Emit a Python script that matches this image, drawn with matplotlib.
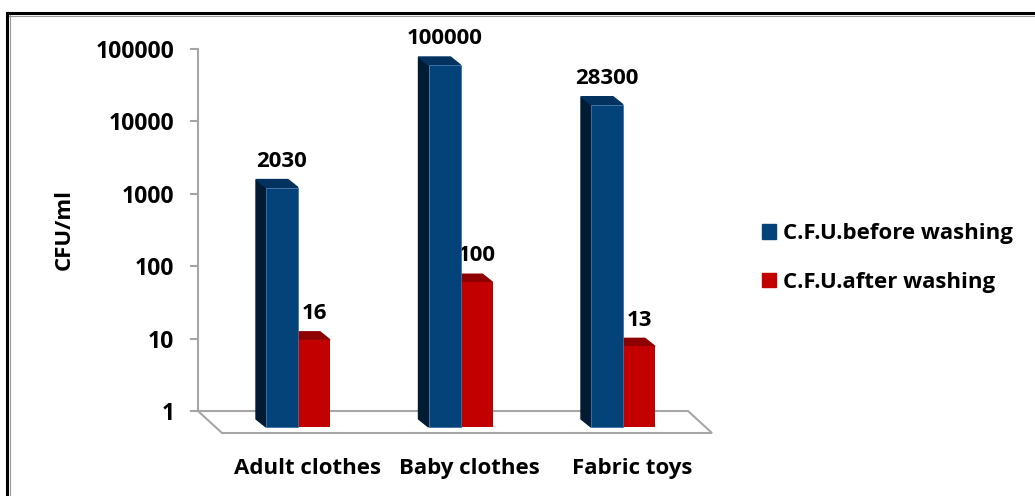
import numpy as np
import matplotlib
matplotlib.use("Agg")
import matplotlib.pyplot as plt
from matplotlib.patches import Polygon, Patch
from matplotlib.lines import Line2D
from matplotlib.ticker import NullLocator
import matplotlib.transforms as mtrans

categories = ["Adult clothes", "Baby clothes", "Fabric toys"]
before_washing = [2030, 100000, 28300]
after_washing = [16, 100, 13]
series_names = ["C.F.U.before washing", "C.F.U.after washing"]
y_ticks = [1, 10, 100, 1000, 10000, 100000]

plt.rcParams["font.family"] = ["Open Sans", "DejaVu Sans"]
plt.rcParams["font.weight"] = "bold"
FS = 16

BLUE = "#04427A"
BLUE_SIDE = "#011B33"
BLUE_TOP = "#03325E"
RED = "#C30000"
RED_SIDE = "#6E0000"
RED_TOP = "#8E0000"
GRAY = "#A6A6A6"

W, H = 1035, 496
fig = plt.figure(figsize=(W / 100, H / 100), dpi=100)


def px_box(x0, y_top, x1, y_bottom):
    return [x0 / W, 1 - y_bottom / H, (x1 - x0) / W, (y_bottom - y_top) / H]


# back wall with the value axis and the floor
wall = fig.add_axes(px_box(198, 49, 688, 411))
wall.set_yscale("log")
wall.set_ylim(1, 1e5)
wall.set_xlim(0, 1)
wall.patch.set_alpha(0)
for side in ["top", "right", "bottom"]:
    wall.spines[side].set_visible(False)
wall.spines["left"].set_color(GRAY)
wall.spines["left"].set_linewidth(1.5)
wall.set_xticks([])
wall.set_yticks(y_ticks)
wall.set_yticklabels([str(t) for t in y_ticks])
wall.yaxis.set_minor_locator(NullLocator())
wall.tick_params(axis="y", length=6, width=1.5, color=GRAY, pad=11,
                 labelsize=16.5)

fdx = 24 / 490
fdy = -22 / 362
floor = Polygon([(0, 0), (1, 0), (1 + fdx, fdy), (fdx, fdy)], closed=True,
                facecolor="white", edgecolor=GRAY, lw=1.5,
                transform=wall.transAxes, clip_on=False, zorder=1)
wall.add_patch(floor)

fig.text(64 / W, 1 - 230 / H, "CFU/ml", rotation=90, ha="center",
         va="center", fontsize=FS, fontweight="bold")

# bars, front plane
bx = fig.add_axes(px_box(216.75, 65, 704.25, 427))
bx.set_yscale("log")
bx.set_ylim(1, 1e5)
bx.set_xlim(-0.5, 2.5)
bx.axis("off")
bx.patch.set_alpha(0)

x = np.arange(len(categories))
w = 32 / 162.5
ddx = 10 * 3 / 487.5
k = 10 ** (8 / 72.4)


def faces(ax, xc, val, side_c, top_c, z):
    x0, x1 = xc - w / 2, xc + w / 2
    ax.add_patch(Polygon([(x0, 1), (x0, val), (x0 - ddx, val * k),
                          (x0 - ddx, k)], closed=True, color=side_c,
                         clip_on=False, zorder=z))
    ax.add_patch(Polygon([(x0, val), (x1, val), (x1 - ddx, val * k),
                          (x0 - ddx, val * k)], closed=True, color=top_c,
                         clip_on=False, zorder=z))


for i in range(len(categories)):
    faces(bx, x[i] + w / 2, after_washing[i], RED_SIDE, RED_TOP, 2)
bars_after = bx.bar(x + w / 2, np.array(after_washing) - 1, bottom=1,
                    width=w, color=RED, zorder=2.5, clip_on=False)
for i in range(len(categories)):
    faces(bx, x[i] - w / 2, before_washing[i], BLUE_SIDE, BLUE_TOP, 3)
bars_before = bx.bar(x - w / 2, np.array(before_washing) - 1, bottom=1,
                     width=w, color=BLUE, edgecolor="#3E72A8", lw=0.6,
                     zorder=3.5, clip_on=False)

for i in range(len(categories)):
    bx.annotate(str(before_washing[i]), (x[i] - w / 2, before_washing[i]),
                xytext=(0, 15), textcoords="offset points", ha="center",
                va="baseline", fontsize=FS, fontweight="bold")
    bx.annotate(str(after_washing[i]), (x[i] + w / 2, after_washing[i]),
                xytext=(0, 15), textcoords="offset points", ha="center",
                va="baseline", fontsize=FS, fontweight="bold")

lab_shift = mtrans.ScaledTranslation(0.09, -0.47, fig.dpi_scale_trans)
for i, cat in enumerate(categories):
    bx.text(x[i], 1, cat, transform=bx.transData + lab_shift, ha="center",
            va="baseline", fontsize=FS, fontweight="bold")

em = FS * 100 / 72
handles = [Patch(color=BLUE), Patch(color=RED)]
fig.legend(handles, series_names, loc="center left",
           bbox_to_anchor=(762 / W, 1 - 258 / H), frameon=False,
           handlelength=14 / em, handleheight=14 / em,
           handletextpad=7 / em, labelspacing=1.25, borderpad=0,
           borderaxespad=0, prop={"weight": "bold", "size": FS})

# outer frame (only top and left edges are inside the picture)
fig.add_artist(Line2D([7 / W, 1], [1 - 13 / H] * 2, color="black", lw=2.2))
fig.add_artist(Line2D([7 / W] * 2, [1 - 13 / H, 0], color="black", lw=2.2))
fig.add_artist(Line2D([9 / W, 1], [1 - 15.5 / H] * 2, color="#9A9A9A", lw=0.8))
fig.add_artist(Line2D([9.5 / W] * 2, [1 - 15 / H, 0], color="#9A9A9A", lw=0.8))

fig.savefig("out.png", dpi=100)
